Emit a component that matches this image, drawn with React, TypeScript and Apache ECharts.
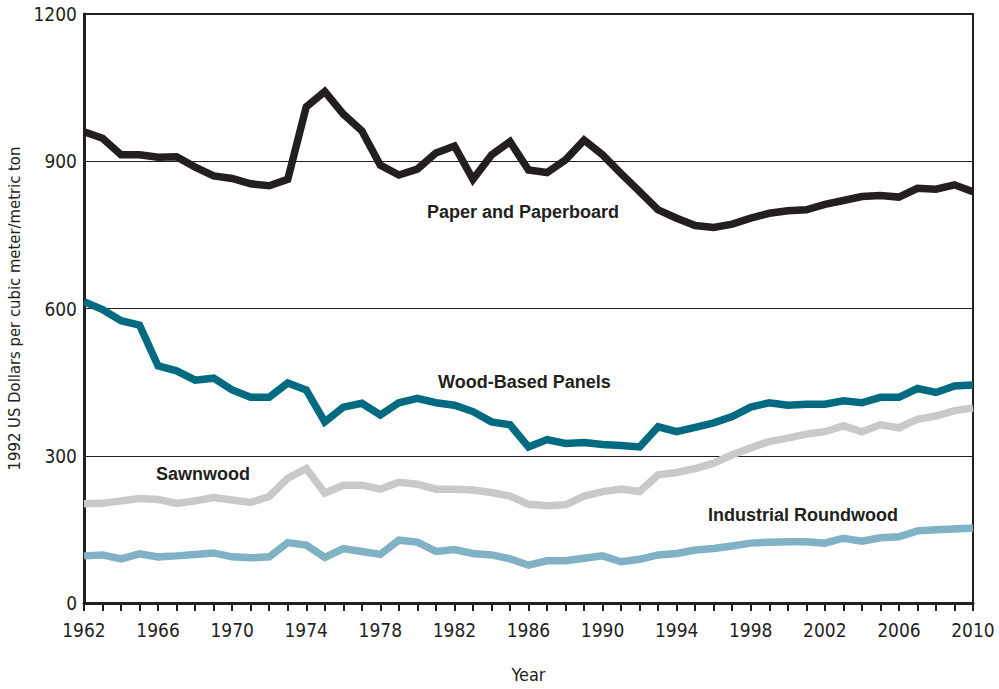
import React, { useEffect, useRef } from "react";
import * as echarts from "echarts";

const years: number[] = [];
for (let y = 1962; y <= 2010; y++) years.push(y);

const paper = [960, 947, 913, 913, 908, 909, 888, 870, 865, 854, 850, 863, 1011, 1042, 996, 962, 892, 872, 884, 917, 931, 863, 913, 940, 882, 877, 903, 943, 913, 875, 838, 801, 784, 769, 765, 772, 784, 794, 799, 801, 812, 820, 828, 830, 827, 845, 843, 852, 838];
const panels = [614, 598, 575, 566, 483, 473, 454, 458, 434, 419, 419, 448, 434, 369, 399, 407, 383, 408, 417, 408, 403, 390, 369, 363, 318, 333, 325, 327, 323, 321, 318, 359, 349, 358, 367, 380, 399, 408, 403, 405, 405, 412, 408, 419, 419, 437, 429, 442, 444];
const sawnwood = [202, 203, 208, 213, 211, 203, 208, 215, 210, 205, 217, 254, 274, 224, 240, 240, 232, 246, 242, 232, 232, 230, 225, 218, 201, 198, 200, 218, 227, 232, 227, 261, 266, 274, 285, 302, 316, 329, 336, 344, 349, 361, 349, 363, 357, 374, 381, 392, 397];
const roundwood = [96, 98, 90, 100, 94, 96, 99, 102, 94, 92, 94, 123, 118, 93, 111, 105, 99, 128, 124, 105, 109, 101, 98, 90, 77, 86, 86, 91, 96, 84, 89, 98, 101, 108, 111, 116, 122, 124, 125, 125, 122, 132, 126, 133, 135, 147, 149, 151, 153];

const seriesNames = ["Paper and Paperboard", "Wood-Based Panels", "Sawnwood", "Industrial Roundwood"];
const seriesColors = ["#231f20", "#006b80", "#c8c9cb", "#80b1c5"];
const seriesData = [paper, panels, sawnwood, roundwood];

const yTicks = [0, 300, 600, 900, 1200];

export default function App() {
  const ref = useRef<HTMLDivElement>(null);
  useEffect(() => {
    if (!ref.current) return;
    const chart = echarts.init(ref.current, undefined, { renderer: "svg" });
    const txt = "#231f20";
    const narrow = "'DejaVu Sans Condensed', 'Liberation Sans Narrow', Roboto, sans-serif";
    const bold = "'Liberation Sans', Roboto, sans-serif";
    chart.setOption({
      animation: false,
      backgroundColor: "#ffffff",
      grid: {
        left: 84,
        right: 26,
        top: 14,
        bottom: 86,
        containLabel: false,
        outerBoundsMode: "none",
        show: true,
        borderColor: txt,
        borderWidth: 2,
      },
      xAxis: {
        type: "value",
        min: 1962,
        max: 2010,
        interval: 1,
        name: "Year",
        nameLocation: "middle",
        nameGap: 62,
        nameTextStyle: { fontFamily: narrow, fontSize: 18, color: txt },
        axisLine: { show: true, onZero: false, lineStyle: { color: txt, width: 3 } },
        axisTick: { show: true, inside: false, length: 8, interval: 0, lineStyle: { color: txt, width: 2 } },
        axisLabel: {
          fontFamily: narrow,
          fontSize: 19,
          color: txt,
          margin: 17,
          showMaxLabel: true,
          formatter: (v: number) => ((v - 1962) % 4 === 0 ? String(v) : ""),
        },
        splitLine: { show: false },
      },
      yAxis: {
        type: "value",
        min: yTicks[0],
        max: yTicks[yTicks.length - 1],
        interval: 300,
        name: "1992 US Dollars per cubic meter/metric ton",
        nameLocation: "middle",
        nameGap: 58,
        nameTextStyle: { fontFamily: narrow, fontSize: 16.5, color: txt },
        axisLine: { show: true, lineStyle: { color: txt, width: 3 } },
        axisTick: { show: false },
        axisLabel: { fontFamily: narrow, fontSize: 19, color: txt, margin: 7, formatter: (v: number) => String(v) },
        splitLine: { show: true, lineStyle: { color: txt, width: 1.2 } },
      },
      series: seriesData.map((d, i) => ({
        name: seriesNames[i],
        type: "line",
        data: d.map((v, j) => [years[j], v]),
        showSymbol: false,
        symbol: "none",
        lineStyle: { color: seriesColors[i], width: 7.5, join: "miter" },
        z: 10 - i,
      })),
      graphic: [
        { type: "text", left: 427, top: 203, style: { text: "Paper and Paperboard", font: `bold 18px ${bold}`, fill: txt } },
        { type: "text", left: 438, top: 373, style: { text: "Wood-Based Panels", font: `bold 18px ${bold}`, fill: txt } },
        { type: "text", left: 156, top: 465, style: { text: "Sawnwood", font: `bold 18px ${bold}`, fill: txt } },
        { type: "text", left: 708, top: 506, style: { text: "Industrial Roundwood", font: `bold 18px ${bold}`, fill: txt } },
      ],
    });
    return () => chart.dispose();
  }, []);
  return <div ref={ref} style={{ position: "fixed", left: 0, top: 0, width: 999, height: 689 }} />;
}
